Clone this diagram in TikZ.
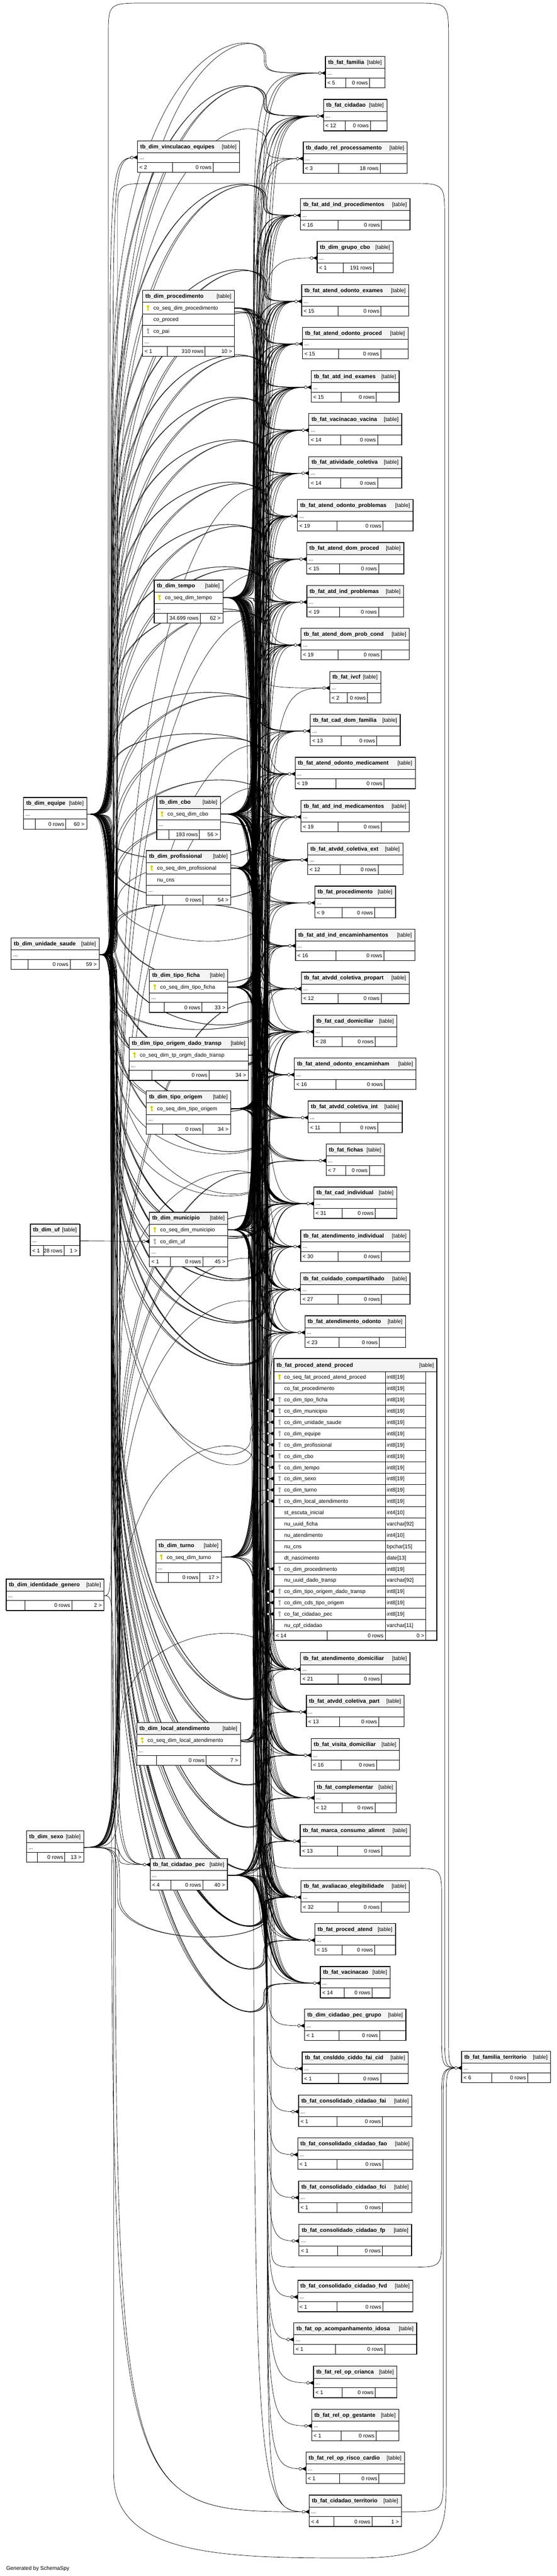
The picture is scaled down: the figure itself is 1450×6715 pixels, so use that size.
\documentclass[tikz,border=0pt]{standalone}
\usepackage{fontspec}
\setmainfont{Liberation Sans}
\usetikzlibrary{calc}
\definecolor{keyyellow}{HTML}{D4D400}
\definecolor{keygrey}{HTML}{ADADAD}
\definecolor{headgrey}{HTML}{F4F4F4}
\tikzset{
  tblhead/.style={draw=black, fill=headgrey, line width=0.8pt, inner sep=0pt, outer sep=0pt, minimum height=31pt},
  tblrow/.style={draw=black, line width=0.8pt, inner sep=0pt, outer sep=0pt, minimum height=30pt},
  tbldots/.style={draw=black, line width=0.8pt, inner sep=0pt, outer sep=0pt, minimum height=25pt},
  tblframe/.style={draw=black, line width=1.5pt},
  tbltitle/.style={inner sep=0pt, font=\bfseries\fontsize{14.5}{16}\selectfont},
  tbltext/.style={inner sep=0pt, font=\fontsize{14}{16}\selectfont},
  fkline/.style={draw=black, line width=0.9pt},
  pics/keyicon/.style={code={
    \fill[fill=#1] (0,-4) circle[radius=3.4pt];
    \fill[fill=#1] (-1.2,-2) rectangle (1.2,7);
    \fill[fill=#1] (1.2,2.5) rectangle (3.2,4);
    \fill[fill=#1] (1.2,5.2) rectangle (3.2,6.8);
  }},
  pics/crow/.style={code={
    \fill (-11,0) -- (0,-5.5) -- (0,5.5) -- cycle;
    \filldraw[fill=white, line width=0.9pt] (-14.5,0) circle[radius=3.6pt];
  }}
}
% 0: only the named ports, 1: the tables themselves
\def\tblmode{0}
% id, title, centre x, top, width, attribute rows, parents, rows, children
\newcommand{\dbtable}[9]{%
  \pgfmathsetmacro{\tbL}{#3-#5/2}%
  \pgfmathsetmacro{\tbR}{#3+#5/2}%
  \pgfmathsetmacro{\tbD}{#4+31+30*#6}%
  \pgfmathsetmacro{\tbF}{\tbD+25}%
  \pgfmathsetmacro{\tbB}{\tbF+26}%
  \expandafter\xdef\csname tbl@l@#1\endcsname{\tbL}%
  \expandafter\xdef\csname tbl@t@#1\endcsname{#4}%
  \expandafter\xdef\csname tbl@w@#1\endcsname{#5}%
  \ifnum\tblmode=0
    \node[tblhead, draw=none, fill=none, minimum width=#5pt, anchor=north west] (#1) at (\tbL,#4) {};
    \node[tbldots, draw=none, minimum width=#5pt, anchor=north west] (#1-d) at (\tbL,\tbD) {};
  \else
    \fill[white] (\tbL,#4) rectangle (\tbR,\tbB);
    \node[tblhead, minimum width=#5pt, anchor=north west] (#1) at (\tbL,#4) {};
    \node[tbltitle, anchor=base west] at (\tbL+7,#4+20) {#2};
    \node[tbltext, anchor=base east] at (\tbR-8,#4+20) {[table]};
    \node[tbldots, minimum width=#5pt, anchor=north west] (#1-d) at (\tbL,\tbD) {};
    \node[tbltext, anchor=base west] at (\tbL+5,\tbD+17) {...};
    \if\relax\detokenize{#9}\relax
      \pgfmathsetmacro{\tbS}{\tbL+0.34*#5}\pgfmathsetmacro{\tbT}{\tbL+0.74*#5}%
    \else
      \if\relax\detokenize{#7}\relax
        \pgfmathsetmacro{\tbS}{\tbL+0.19*#5}\pgfmathsetmacro{\tbT}{\tbL+0.67*#5}%
      \else
        \pgfmathsetmacro{\tbS}{\tbL+0.27*#5}\pgfmathsetmacro{\tbT}{\tbL+0.68*#5}%
      \fi
    \fi
    \draw[line width=0.8pt] (\tbL,\tbF) rectangle (\tbR,\tbB) (\tbS,\tbF) -- (\tbS,\tbB) (\tbT,\tbF) -- (\tbT,\tbB);
    \node[tbltext, anchor=base west] at (\tbL+5,\tbF+18) {#7};
    \node[tbltext, anchor=base east] at (\tbT-4,\tbF+18) {#8};
    \node[tbltext, anchor=base east] at (\tbR-6,\tbF+18) {#9};
    \draw[tblframe] (\tbL,#4) rectangle (\tbR,\tbB);
  \fi
}
% id, index, key colour, column
\newcommand{\dbrow}[4]{%
  \edef\tbL{\csname tbl@l@#1\endcsname}%
  \edef\tbW{\csname tbl@w@#1\endcsname}%
  \pgfmathsetmacro{\tbY}{\csname tbl@t@#1\endcsname+31+30*(#2-1)}%
  \ifnum\tblmode=0
    \node[tblrow, draw=none, minimum width=\tbW pt, anchor=north west] (#1-#2) at (\tbL,\tbY) {};
  \else
    \node[tblrow, minimum width=\tbW pt, anchor=north west] (#1-#2) at (\tbL,\tbY) {};
    \pic at (\tbL+14,\tbY+15) {keyicon=#3};
    \node[tbltext, anchor=base west] at (\tbL+28,\tbY+20) {#4};
  \fi
}
% fact tables of the right column
\newcommand{\rtable}[5]{\dbtable{#1}{#2}{925}{#3}{#4}{0}{< #5}{0 rows}{}}
% link from a table of the left column: parent, child port, child y, left x, middle x
\newcommand{\leftedge}[5]{%
  \pgfmathsetmacro{\eyp}{\csname yp@#1\endcsname}%
  \pgfmathsetmacro{\eys}{(#3>=\eyp) ? 1 : -1}%
  \pgfmathsetmacro{\eya}{#3+130*\eys}%
  \pgfmathsetmacro{\eyb}{#3+45*\eys}%
  \pgfmathsetmacro{\eym}{(\eyp+\eya)/2}%
  \draw[fkline] (#1-out) .. controls (#4,\eyp) .. (#4,\eym) .. controls (#4,\eya) and (#5,\eya) .. (#5,\eyb) .. controls (#5,#3) .. (#2);
}
\expandafter\def\csname yp@eq\endcsname{2122.5}
\expandafter\def\csname yp@us\endcsname{2488.5}
\expandafter\def\csname yp@ig\endcsname{4159.5}
\expandafter\def\csname yp@sx\endcsname{4815.5}
\expandafter\def\csname xl@eq\endcsname{284}
\expandafter\def\csname xl@us\endcsname{296}
\expandafter\def\csname xl@sx\endcsname{306}

\newcommand{\alltables}{%
  % left column
  \dbtable{eq}{tb\_dim\_equipe}{143.5}{2079}{165}{0}{}{0 rows}{60 >}
  \dbtable{us}{tb\_dim\_unidade\_saude}{143.5}{2445}{229}{0}{}{0 rows}{59 >}
  \dbtable{uf}{tb\_dim\_uf}{143.5}{3191}{129}{0}{< 1}{28 rows}{1 >}
  \dbtable{ig}{tb\_dim\_identidade\_genero}{143.5}{4116}{255}{0}{}{0 rows}{2 >}
  \dbtable{sx}{tb\_dim\_sexo}{143.5}{4772}{149}{0}{}{0 rows}{13 >}
  % middle column
  \dbtable{vinc}{tb\_dim\_vinculacao\_equipes}{491}{367}{266}{0}{< 2}{0 rows}{}
  \dbtable{proc}{tb\_dim\_procedimento}{491}{757}{239}{3}{< 1}{310 rows}{10 >}
  \dbrow{proc}{1}{keyyellow}{co\_seq\_dim\_procedimento}
  \dbrow{proc}{2}{white}{co\_proced}
  \dbrow{proc}{3}{keygrey}{co\_pai}
  \dbtable{tp}{tb\_dim\_tempo}{491}{1512}{179}{1}{}{34.699 rows}{62 >}
  \dbrow{tp}{1}{keyyellow}{co\_seq\_dim\_tempo}
  \dbtable{cbo}{tb\_dim\_cbo}{491}{2076}{166}{1}{}{193 rows}{56 >}
  \dbrow{cbo}{1}{keyyellow}{co\_seq\_dim\_cbo}
  \dbtable{prof}{tb\_dim\_profissional}{491}{2217}{220}{2}{}{0 rows}{54 >}
  \dbrow{prof}{1}{keyyellow}{co\_seq\_dim\_profissional}
  \dbrow{prof}{2}{white}{nu\_cns}
  \dbtable{tficha}{tb\_dim\_tipo\_ficha}{491}{2527}{204}{1}{}{0 rows}{33 >}
  \dbrow{tficha}{1}{keyyellow}{co\_seq\_dim\_tipo\_ficha}
  \dbtable{todt}{tb\_dim\_tipo\_origem\_dado\_transp}{491.5}{2704}{311}{1}{}{0 rows}{34 >}
  \dbrow{todt}{1}{keyyellow}{co\_seq\_dim\_tp\_orgm\_dado\_transp}
  \dbtable{torig}{tb\_dim\_tipo\_origem}{491}{2844}{220}{1}{}{0 rows}{34 >}
  \dbrow{torig}{1}{keyyellow}{co\_seq\_dim\_tipo\_origem}
  \dbtable{mun}{tb\_dim\_municipio}{491}{3160}{204}{2}{< 1}{0 rows}{45 >}
  \dbrow{mun}{1}{keyyellow}{co\_seq\_dim\_municipio}
  \dbrow{mun}{2}{keygrey}{co\_dim\_uf}
  \dbtable{tu}{tb\_dim\_turno}{491.5}{4013}{171}{1}{}{0 rows}{17 >}
  \dbrow{tu}{1}{keyyellow}{co\_seq\_dim\_turno}
  \dbtable{la}{tb\_dim\_local\_atendimento}{491}{4490}{270}{1}{}{0 rows}{7 >}
  \dbrow{la}{1}{keyyellow}{co\_seq\_dim\_local\_atendimento}
  \dbtable{cpec}{tb\_fat\_cidadao\_pec}{491.5}{4845}{201}{0}{< 4}{0 rows}{40 >}
  % right column
  \rtable{familia}{tb\_fat\_familia}{147}{155}{5}
  \rtable{cidadao}{tb\_fat\_cidadao}{259}{165}{12}
  \dbtable{dadorel}{tb\_dado\_rel\_processamento}{925}{370}{271}{0}{< 3}{18 rows}{}
  \rtable{aiproc}{tb\_fat\_atd\_ind\_procedimentos}{518}{285}{16}
  \dbtable{grupocbo}{tb\_dim\_grupo\_cbo}{925}{629}{198}{0}{< 1}{191 rows}{}
  \rtable{aoexam}{tb\_fat\_atend\_odonto\_exames}{742}{279}{15}
  \rtable{aoproc}{tb\_fat\_atend\_odonto\_proced}{853}{275}{15}
  \rtable{aiexam}{tb\_fat\_atd\_ind\_exames}{966}{229}{15}
  \rtable{vacvac}{tb\_fat\_vacinacao\_vacina}{1078}{242}{14}
  \rtable{ativcol}{tb\_fat\_atividade\_coletiva}{1190}{242}{14}
  \rtable{aoprob}{tb\_fat\_atend\_odonto\_problemas}{1302}{301}{19}
  \rtable{adproc}{tb\_fat\_atend\_dom\_proced}{1414}{253}{15}
  \rtable{aiprob}{tb\_fat\_atd\_ind\_problemas}{1526}{252}{19}
  \rtable{adprob}{tb\_fat\_atend\_dom\_prob\_cond}{1638}{282}{19}
  \rtable{ivcf}{tb\_fat\_ivcf}{1750}{133}{2}
  \rtable{caddomfam}{tb\_fat\_cad\_dom\_familia}{1862}{234}{13}
  \rtable{aomed}{tb\_fat\_atend\_odonto\_medicament}{1974}{313}{19}
  \rtable{aimed}{tb\_fat\_atd\_ind\_medicamentos}{2086}{282}{19}
  \rtable{acext}{tb\_fat\_atvdd\_coletiva\_ext}{2198}{248}{12}
  \rtable{fproc}{tb\_fat\_procedimento}{2310}{210}{9}
  \rtable{aienc}{tb\_fat\_atd\_ind\_encaminhamentos}{2422}{311}{16}
  \rtable{acprop}{tb\_fat\_atvdd\_coletiva\_propart}{2534}{281}{12}
  \rtable{caddom}{tb\_fat\_cad\_domiciliar}{2646}{217}{28}
  \rtable{aoenc}{tb\_fat\_atend\_odonto\_encaminham}{2758}{317}{16}
  \rtable{acint}{tb\_fat\_atvdd\_coletiva\_int}{2870}{245}{11}
  \rtable{fichas}{tb\_fat\_fichas}{2982}{152}{7}
  \rtable{cadind}{tb\_fat\_cad\_individual}{3094}{216}{31}
  \rtable{atind}{tb\_fat\_atendimento\_individual}{3206}{284}{30}
  \rtable{cuidado}{tb\_fat\_cuidado\_compartilhado}{3318}{285}{27}
  \rtable{atodo}{tb\_fat\_atendimento\_odonto}{3430}{262}{23}
  \rtable{atdom}{tb\_fat\_atendimento\_domiciliar}{4308}{285}{21}
  \rtable{acpart}{tb\_fat\_atvdd\_coletiva\_part}{4419}{255}{13}
  \rtable{visita}{tb\_fat\_visita\_domiciliar}{4532}{230}{16}
  \rtable{compl}{tb\_fat\_complementar}{4643}{214}{12}
  \rtable{marca}{tb\_fat\_marca\_consumo\_alimnt}{4756}{287}{13}
  \rtable{aval}{tb\_fat\_avaliacao\_elegibilidade}{4902}{282}{32}
  \rtable{procat}{tb\_fat\_proced\_atend}{5014}{210}{15}
  \rtable{vac}{tb\_fat\_vacinacao}{5126}{182}{14}
  \rtable{cpgrupo}{tb\_dim\_cidadao\_pec\_grupo}{5237}{264}{1}
  \rtable{cnsl}{tb\_fat\_cnslddo\_ciddo\_fai\_cid}{5349}{276}{1}
  \rtable{cfai}{tb\_fat\_consolidado\_cidadao\_fai}{5461}{295}{1}
  \rtable{cfao}{tb\_fat\_consolidado\_cidadao\_fao}{5573}{300}{1}
  \rtable{cfci}{tb\_fat\_consolidado\_cidadao\_fci}{5685}{295}{1}
  \rtable{cfp}{tb\_fat\_consolidado\_cidadao\_fp}{5798}{293}{1}
  \rtable{cfvd}{tb\_fat\_consolidado\_cidadao\_fvd}{5944}{300}{1}
  \rtable{opidosa}{tb\_fat\_op\_acompanhamento\_idosa}{6055}{320}{1}
  \rtable{opcrianca}{tb\_fat\_rel\_op\_crianca}{6168}{217}{1}
  \rtable{opgestante}{tb\_fat\_rel\_op\_gestante}{6280}{227}{1}
  \rtable{oprisco}{tb\_fat\_rel\_op\_risco\_cardio}{6392}{257}{1}
  \dbtable{cterr}{tb\_fat\_cidadao\_territorio}{925}{6504}{240}{0}{< 4}{0 rows}{1 >}
  \dbtable{famterr}{tb\_fat\_familia\_territorio}{1318}{5347}{232}{0}{< 6}{0 rows}{}
  % the fact table shown with its columns
  \ifnum\tblmode=1
    \fill[white] (713,3542) rectangle (1137,4276);
    \node[tblhead, minimum width=424pt, minimum height=33pt, anchor=north west] (pap) at (713,3542) {};
    \node[tbltitle, anchor=base west] at (720,3564) {tb\_fat\_proced\_atend\_proced};
    \node[tbltext, anchor=base east] at (1130,3564) {[table]};
  \fi
  \foreach \kc/\nm/\ty [count=\i] in {
      keyyellow/co\_seq\_fat\_proced\_atend\_proced/int8[19],
      white/co\_fat\_procedimento/int8[19],
      keygrey/co\_dim\_tipo\_ficha/int8[19],
      keygrey/co\_dim\_municipio/int8[19],
      keygrey/co\_dim\_unidade\_saude/int8[19],
      keygrey/co\_dim\_equipe/int8[19],
      keygrey/co\_dim\_profissional/int8[19],
      keygrey/co\_dim\_cbo/int8[19],
      keygrey/co\_dim\_tempo/int8[19],
      keygrey/co\_dim\_sexo/int8[19],
      keygrey/co\_dim\_turno/int8[19],
      keygrey/co\_dim\_local\_atendimento/int8[19],
      white/st\_escuta\_inicial/int4[10],
      white/nu\_uuid\_ficha/varchar[92],
      white/nu\_atendimento/int4[10],
      white/nu\_cns/bpchar[15],
      white/dt\_nascimento/date[13],
      keygrey/co\_dim\_procedimento/int8[19],
      white/nu\_uuid\_dado\_transp/varchar[92],
      keygrey/co\_dim\_tipo\_origem\_dado\_transp/int8[19],
      keygrey/co\_dim\_cds\_tipo\_origem/int8[19],
      keygrey/co\_fat\_cidadao\_pec/int8[19],
      white/nu\_cpf\_cidadao/varchar[11]} {
    \pgfmathsetmacro{\tbY}{3575+29.4*(\i-1)}
    \ifnum\tblmode=0
      \node[tblrow, draw=none, minimum width=290pt, minimum height=29.4pt, anchor=north west] (pap-\i) at (713,\tbY) {};
    \else
      \node[tblrow, minimum width=290pt, minimum height=29.4pt, anchor=north west] (pap-\i) at (713,\tbY) {};
      \draw[line width=0.8pt] (1003,\tbY) rectangle (1109,\tbY+29.4);
      \pic at (728,\tbY+14.7) {keyicon=\kc};
      \node[tbltext, anchor=base west] at (740,\tbY+20) {\nm};
      \node[tbltext, anchor=base west] at (1007,\tbY+20) {\ty};
    \fi
  }
  \ifnum\tblmode=1
    \draw[line width=0.8pt] (713,4251) rectangle (1137,4276) (852,4251) -- (852,4276) (1003,4251) -- (1003,4276) (1109,4251) -- (1109,4276);
    \node[tbltext, anchor=base west] at (718,4269) {< 14};
    \node[tbltext, anchor=base east] at (999,4269) {0 rows};
    \node[tbltext, anchor=base east] at (1105,4269) {0 >};
    \draw[line width=2.5pt] (713,3542) rectangle (1137,4276);
  \fi
}

\begin{document}
\begin{tikzpicture}[x=1pt, y=-1pt]
  \useasboundingbox (0,0) rectangle (1450,6715);
  \fill[white] (0,0) rectangle (1450,6715);

  % ports first, lines under the tables
  \def\tblmode{0}
  \alltables
  \foreach \pa in {proc, tp, cbo, prof, tficha, todt, torig, mun, tu, la}
    \coordinate (\pa-out) at (\pa-1.east);
  \foreach \pa in {eq, us, uf, ig, sx, cpec}
    \coordinate (\pa-out) at (\pa-d.east);
  \foreach \v in {280,...,320}
    \coordinate (c\v) at (\v,0);
  \foreach \v in {640,...,710}
    \coordinate (c\v) at (\v,0);

  % fact tables and their dimensions
  \foreach \ch/\np in {familia/5, cidadao/12, aiproc/16, aoexam/15, aoproc/15, aiexam/15,
      vacvac/14, ativcol/14, aoprob/19, adproc/15, aiprob/19, adprob/19, caddomfam/13,
      aomed/19, aimed/19, acext/12, fproc/9, aienc/16, acprop/12, caddom/28, aoenc/16,
      acint/11, fichas/7, cadind/31, atind/30, cuidado/27, atodo/23, atdom/21, acpart/13,
      visita/16, compl/12, marca/13, aval/32, procat/15, vac/14} {
    \gdef\plist{}
    \pgfmathsetmacro{\ycy}{\csname tbl@t@\ch\endcsname+43.5}
    \foreach \pa/\cxx [count=\k] in {tp/660, eq/688, us/692, cbo/668, prof/676, mun/664,
        tficha/684, todt/692, torig/698, tp/662, eq/686, us/694, cbo/670, prof/678, tu/672,
        mun/666, cpec/694, sx/698, proc/688, la/680, tp/658, eq/684, us/690, cbo/666,
        prof/674, mun/662, cpec/696, sx/700, tp/664, eq/688, us/692, tp/656} {
      \ifnum\k>\np\relax\else
        \expandafter\ifx\csname xl@\pa\endcsname\relax
          \xdef\plist{\ifx\plist\empty\else\plist,\fi\pa/\cxx}%
        \else
          \pgfmathsetmacro{\exl}{\csname xl@\pa\endcsname+mod(\k,4)*3}%
          \leftedge{\pa}{\ch-d.west}{\ycy}{\exl}{\cxx}%
        \fi
      \fi
    }
    \draw[fkline] \foreach \pa/\cxx in \plist {
      (\pa-out) .. controls (\pa-out -| c\cxx) .. ($(\pa-out -| c\cxx)!.5!(\ch-d.west -| c\cxx)$)
      .. controls (\ch-d.west -| c\cxx) .. (\ch-d.west)};
  }
  % columns of tb_fat_proced_atend_proced
  \draw[fkline] \foreach \pa/\rw/\cxx in {tficha/3/670, mun/4/650, prof/7/662,
      cbo/8/654, tp/9/646, tu/11/658, la/12/666, proc/18/674, todt/20/678,
      torig/21/684, cpec/22/688} {
    (\pa-out) .. controls (\pa-out -| c\cxx) .. ($(\pa-out -| c\cxx)!.5!(pap-\rw.west -| c\cxx)$)
    .. controls (pap-\rw.west -| c\cxx) .. (pap-\rw.west)};
  \leftedge{us}{pap-5.west}{3708}{298}{652}
  \leftedge{eq}{pap-6.west}{3737.7}{288}{656}
  \leftedge{sx}{pap-10.west}{3855.3}{308}{660}
  % the other links
  \draw[fkline] \foreach \pa/\ch/\cxx in {cbo/grupocbo/668, tp/dadorel/660,
      mun/dadorel/664, cpec/ivcf/696, tp/ivcf/660, cpec/cpgrupo/696, cpec/cnsl/696,
      cpec/cfai/696, cpec/cfao/696, cpec/cfci/696, cpec/cfp/696, cpec/cfvd/696,
      cpec/opidosa/696, cpec/opcrianca/696, cpec/opgestante/696, cpec/oprisco/696,
      cpec/cterr/696, eq/cterr/290, us/cterr/300, tp/cterr/660, eq/vinc/286, eq/vinc/294} {
    (\pa-out) .. controls (\pa-out -| c\cxx) .. ($(\pa-out -| c\cxx)!.5!(\ch-d.west -| c\cxx)$)
    .. controls (\ch-d.west -| c\cxx) .. (\ch-d.west)};
  \draw[fkline] \foreach \pa/\cxx in {eq/290, us/300, sx/310, ig/295} {
    (\pa-out) .. controls (\pa-out -| c\cxx) .. ($(\pa-out -| c\cxx)!.5!(cpec.west -| c\cxx)$)
    .. controls (cpec.west -| c\cxx) .. (cpec.west)};
  \leftedge{us}{dadorel-d.west}{413.5}{300}{694}
  \leftedge{ig}{cadind-d.west}{3137.5}{292}{690}
  \draw[fkline] (uf-out) -- (mun-2.west);
  % tb_fat_familia_territorio
  \draw[fkline] (eq-out) .. controls (282,2122.5) .. (282,2040) -- (282,95) .. controls (282,8) .. (380,8) -- (1075,8) .. controls (1168,8) .. (1168,100) -- (1168,5300) .. controls (1168,5390.5) .. (famterr-d.west)
    (us-out) .. controls (306,2488.5) .. (306,2400) -- (306,565) .. controls (306,478) .. (400,478) -- (1065,478) .. controls (1158,478) .. (1158,570) -- (1158,5300) .. controls (1158,5390.5) .. (famterr-d.west)
    (tp-out) .. controls (702,1558) .. (702,1640) -- (702,4790) .. controls (702,4870) .. (790,4870) -- (1065,4870) .. controls (1150,4870) .. (1150,4950) -- (1150,5300) .. controls (1150,5390.5) .. (famterr-d.west)
    (mun-out) .. controls (706,3206) .. (706,3290) -- (706,5830) .. controls (706,5910) .. (790,5910) -- (1065,5910) .. controls (1150,5910) .. (1150,5830) -- (1150,5480) .. controls (1150,5390.5) .. (famterr-d.west)
    (sx-out) .. controls (296,4815.5) .. (296,4900) -- (296,6450) .. controls (296,6668) and (600,6668) .. (930,6668) .. controls (1162,6668) and (1162,6600) .. (1162,6450) -- (1162,5480) .. controls (1162,5390.5) .. (famterr-d.west)
    (cterr-d.east) .. controls (1154,6547.5) .. (1154,6460) -- (1154,5480) .. controls (1154,5390.5) .. (famterr-d.west);

  % the tables on top
  \def\tblmode{1}
  \alltables
  \foreach \ch in {familia, cidadao, dadorel, aiproc, grupocbo, aoexam, aoproc, aiexam, vacvac,
      ativcol, aoprob, adproc, aiprob, adprob, ivcf, caddomfam, aomed, aimed, acext, fproc,
      aienc, acprop, caddom, aoenc, acint, fichas, cadind, atind, cuidado, atodo, atdom,
      acpart, visita, compl, marca, aval, procat, vac, cpgrupo, cnsl, cfai, cfao, cfci, cfp,
      cfvd, opidosa, opcrianca, opgestante, oprisco, cterr, famterr, vinc}
    \pic at (\ch-d.west) {crow};
  \pic at (cpec.west) {crow};
  \pic at (mun-2.west) {crow};
  \foreach \rw in {3,...,12,18,20,21,22}
    \pic at (pap-\rw.west) {crow};

  \node[tbltext, anchor=base west] (gen) at (16,6700) {Generated by SchemaSpy};
\end{tikzpicture}
\end{document}
